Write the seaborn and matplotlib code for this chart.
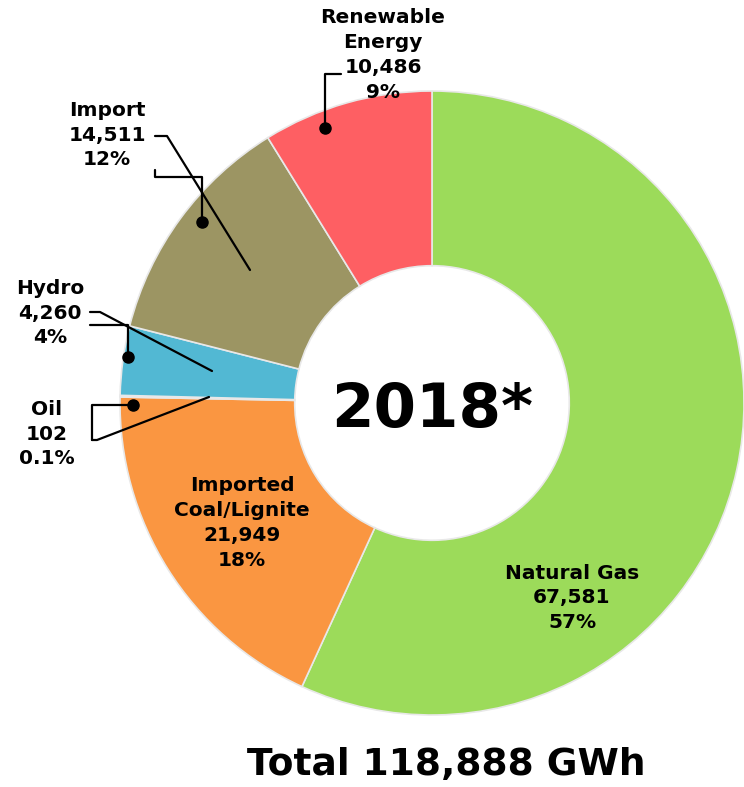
import matplotlib
matplotlib.use("Agg")
import matplotlib.pyplot as plt
import seaborn as sns

# data (GWh, 2018)
sources = ["Natural Gas", "Imported\nCoal/Lignite", "Oil", "Hydro", "Import", "Renewable\nEnergy"]
values = [67581, 21949, 102, 4260, 14511, 10486]
shares = ["57%", "18%", "0.1%", "4%", "12%", "9%"]
colors = ["#9CDB5A", "#FA9641", "#FBB574", "#52B8D3", "#9C9563", "#FE5F63"]
total_label = "Total 118,888 GWh"
year_label = "2018*"

sns.set_theme(style="white")
plt.rcParams['font.family'] = ['DejaVu Sans']

fig = plt.figure(figsize=(7.44, 7.87), dpi=100)
# donut centre at (432, 403) px, radius 312 px
cx, cy, r = 432, 403, 312
W, H = 744, 787
ax = fig.add_axes([(cx - r) / W, 1 - (cy + r) / H, 2 * r / W, 2 * r / H])

wedges, _ = ax.pie(values, colors=colors, startangle=90, counterclock=False,
                   radius=1.0, wedgeprops=dict(width=0.56, edgecolor="#e8e8e8", linewidth=1.2))
ax.set_xlim(-1, 1)
ax.set_ylim(-1, 1)
ax.set_aspect("equal")
ax.axis("off")


def px(x, y):
    # pixel position in the reference -> data coords
    return (x - cx) / r, (cy - y) / r


def label(i, x, y):
    txt = f"{sources[i]}\n{values[i]:,}\n{shares[i]}"
    ax.text(*px(x, y), txt, ha="center", va="center", fontsize=14.5,
            fontweight="bold", linespacing=1.38, color="black", clip_on=False)


def leader(points, dot=None):
    xs, ys = zip(*[px(a, b) for a, b in points])
    ax.plot(xs, ys, color="black", lw=1.6, clip_on=False)
    if dot is not None:
        ax.plot(*px(*dot), "o", color="black", ms=8, clip_on=False)


label(0, 572, 598)
label(1, 242, 523)
label(2, 47, 434)
label(3, 50, 313)
label(4, 107, 135)
label(5, 383, 55)

# leader lines
leader([(341, 74), (325, 74), (325, 128)], dot=(325, 128))
leader([(155, 136), (167, 136), (250, 270)])
leader([(155, 170), (155, 177), (202, 177), (202, 222)], dot=(202, 222))
leader([(90, 312), (100, 312), (212, 371)])
leader([(90, 325), (128, 325), (128, 357)], dot=(128, 357))
leader([(92, 440), (97, 440), (209, 397)])
leader([(92, 440), (92, 405), (133, 405)], dot=(133, 405))

ax.text(*px(432, 410), year_label, ha="center", va="center", fontsize=44,
        fontweight="bold", color="black")

fig.text(446 / W, 1 - 765 / H, total_label, ha="center", va="center",
         fontsize=27, fontweight="bold", color="black")

fig.savefig("out.png", dpi=100, facecolor="white")
